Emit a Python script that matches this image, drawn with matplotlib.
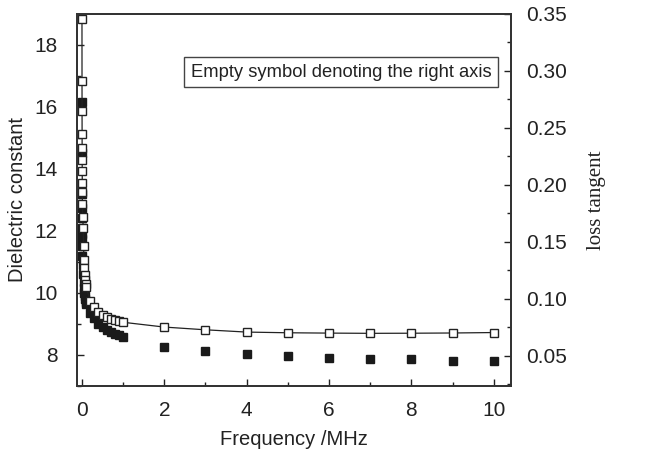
import matplotlib.pyplot as plt
from matplotlib.ticker import MultipleLocator

plt.rcParams['font.family'] = ['Liberation Sans', 'DejaVu Sans']

# frequency points (MHz)
freq_low = [0.001, 0.002, 0.003, 0.004, 0.005, 0.006, 0.007, 0.008, 0.009, 0.01,
            0.02, 0.03, 0.04, 0.05, 0.06, 0.07, 0.08, 0.09]
freq_mid = [0.1, 0.2, 0.3, 0.4, 0.5, 0.6, 0.7, 0.8, 0.9, 1.0]
freq_high = [2, 3, 4, 5, 6, 7, 8, 9, 10]
freq = freq_low + freq_mid + freq_high

# dielectric constant (filled squares, left axis)
eps_low = [16.15, 14.5, 13.2, 12.75, 12.42, 12.1, 11.9, 11.75, 11.5, 11.2,
           10.9, 10.6, 10.35, 10.15, 10.0, 9.9, 9.8, 9.72]
eps_mid = [9.65, 9.35, 9.19, 9.0, 8.9, 8.81, 8.74, 8.68, 8.63, 8.58]
eps_high = [8.27, 8.13, 8.04, 7.98, 7.91, 7.88, 7.86, 7.82, 7.80]
eps = eps_low + eps_mid + eps_high

# loss tangent (empty squares, right axis)
tan_low = [0.346, 0.291, 0.2645, 0.245, 0.232, 0.222, 0.212, 0.202, 0.194, 0.183,
           0.172, 0.1625, 0.146, 0.134, 0.127, 0.121, 0.1166, 0.113]
tan_mid = [0.1106, 0.0986, 0.0926, 0.0888, 0.0860, 0.0840, 0.0825, 0.0812, 0.0802, 0.0795]
tan_high = [0.0753, 0.0729, 0.0709, 0.0703, 0.0700, 0.0698, 0.0699, 0.0701, 0.0705]
tan = tan_low + tan_mid + tan_high

fig = plt.figure(figsize=(6.62, 4.54), dpi=100)
ax = fig.add_axes([0.1163, 0.1498, 0.6557, 0.8194])
ax2 = ax.twinx()

ax2.plot(freq, tan, '-', color='#222222', lw=0.9, marker='s', ms=5.5,
         mfc='white', mec='#222222', mew=1.0, zorder=2)
ax.plot(freq, eps, 's', color='#1a1a1a', ms=5.5, mec='#1a1a1a', zorder=3)

ax.set_xlim(-0.12, 10.42)
ax.set_ylim(7, 19)
ax2.set_ylim(0.0236, 0.35)

ax.xaxis.set_major_locator(MultipleLocator(2))
ax.xaxis.set_minor_locator(MultipleLocator(1))
ax.yaxis.set_major_locator(MultipleLocator(2))
ax.yaxis.set_minor_locator(MultipleLocator(1))
ax2.yaxis.set_minor_locator(MultipleLocator(0.025))
ax2.set_yticks([0.05, 0.10, 0.15, 0.20, 0.25, 0.30, 0.35])
ax2.set_yticklabels(['0.05', '0.10', '0.15', '0.20', '0.25', '0.30', '0.35'])

for a in (ax, ax2):
    a.tick_params(which='both', direction='in', labelsize=15, colors='#222222',
                  width=1.0)
    a.tick_params(which='major', length=5)
    a.tick_params(which='minor', length=3)
    for s in a.spines.values():
        s.set_color('#333333')
        s.set_linewidth(1.3)

ax.tick_params(axis='x', pad=11)
ax.tick_params(axis='y', pad=14)
ax2.tick_params(axis='y', pad=11)

ax.set_xlabel('Frequency /MHz', fontsize=14.5, color='#222222', labelpad=7)
ax.set_ylabel('Dielectric constant', fontsize=14.5, color='#222222', labelpad=5)
ax2.set_ylabel('loss tangent', fontsize=15, color='#222222',
               family=['Liberation Serif', 'DejaVu Serif'], labelpad=14)

ax.text(0.262, 0.844, 'Empty symbol denoting the right axis', transform=ax.transAxes,
        fontsize=13.2, color='#222222', va='center', ha='left',
        bbox=dict(boxstyle='square,pad=0.38', fc='white', ec='#444444', lw=1.0))

fig.savefig('out.png', dpi=100)
